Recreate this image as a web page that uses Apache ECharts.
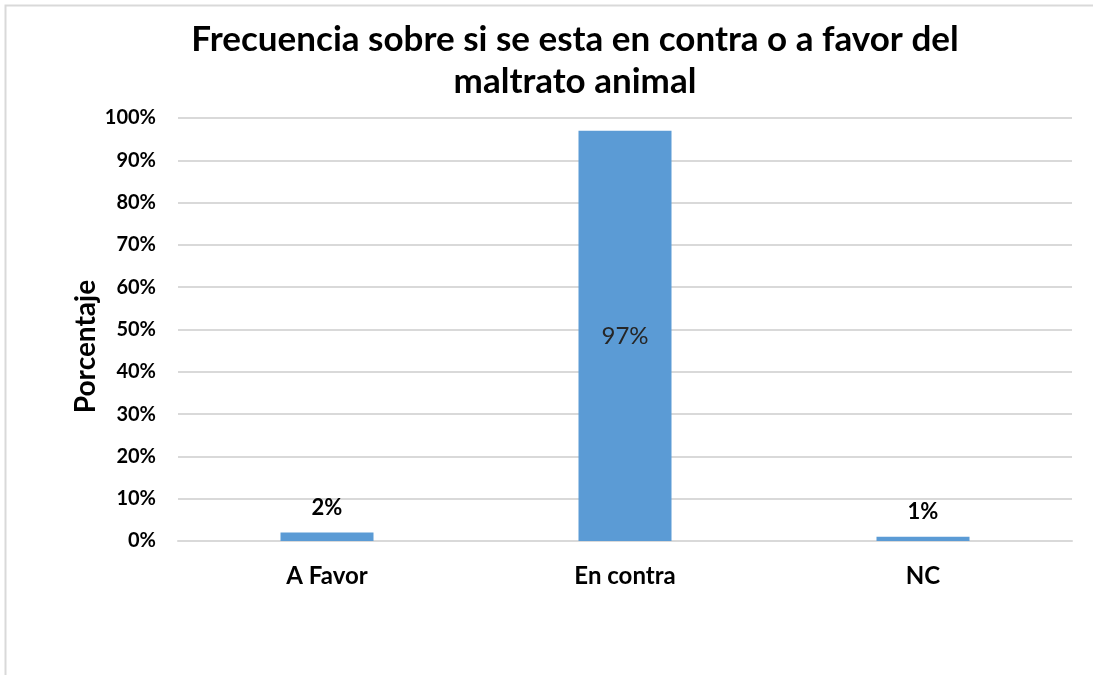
<!DOCTYPE html>
<html>
<head>
<meta charset="utf-8">
<script src="https://cdn.jsdelivr.net/npm/echarts@6/dist/echarts.min.js"></script>
<style>
  html, body { margin: 0; padding: 0; background: #fff; }
  #chart { width: 1093px; height: 675px; }
</style>
</head>
<body>
<div id="chart"></div>
<script>
const categories = ['A Favor', 'En contra', 'NC'];
const percentages = [2, 97, 1];
const yTicks = [0, 10, 20, 30, 40, 50, 60, 70, 80, 90, 100];
const titleLines = ['Frecuencia sobre si se esta en contra o a favor del', 'maltrato animal'];

const font = 'Lato, "Open Sans", sans-serif';

const chart = echarts.init(document.getElementById('chart'));

const seriesData = percentages.map((v, i) => {
  // the big bar carries its label inside, the small ones on top
  if (v > 50) {
    return {
      value: v,
      label: { position: 'inside', fontWeight: 'normal', fontSize: 24, color: '#262626' }
    };
  }
  return { value: v };
});

const option = {
  animation: false,
  backgroundColor: '#fff',
  graphic: [{
    type: 'rect',
    shape: { x: 5.5, y: 5.5, width: 1100, height: 700 },
    style: { fill: null, stroke: '#d9d9d9', lineWidth: 2 },
    silent: true
  }, {
    type: 'text',
    x: 575,
    y: 61,
    style: {
      text: titleLines.join('\n'),
      fontFamily: font,
      fontSize: 35,
      fontWeight: 'bold',
      fill: '#000',
      lineHeight: 42,
      align: 'center',
      verticalAlign: 'middle'
    },
    silent: true
  }],
  grid: {
    left: 178,
    right: 21,
    top: 118,
    bottom: 134
  },
  xAxis: {
    type: 'category',
    data: categories,
    axisLine: { show: true, lineStyle: { color: '#d9d9d9', width: 2 } },
    axisTick: { show: false },
    axisLabel: {
      fontFamily: font,
      fontSize: 24,
      fontWeight: 'bold',
      color: '#000',
      margin: 23
    }
  },
  yAxis: {
    type: 'value',
    min: 0,
    max: 100,
    interval: 10,
    name: 'Porcentaje',
    nameLocation: 'middle',
    nameGap: 78,
    nameMoveOverlap: false,
    nameTextStyle: {
      fontFamily: font,
      fontSize: 28,
      fontWeight: 'bold',
      color: '#000',
      padding: [0, 34, 0, 0]
    },
    axisLine: { show: false },
    axisTick: { show: false },
    splitLine: { lineStyle: { color: '#d9d9d9', width: 2 } },
    axisLabel: {
      fontFamily: font,
      fontSize: 20,
      fontWeight: 'bold',
      color: '#000',
      margin: 22,
      formatter: v => v + '%'
    }
  },
  series: [{
    type: 'bar',
    data: seriesData,
    barWidth: 93,
    itemStyle: { color: '#5b9bd5' },
    label: {
      show: true,
      position: 'top',
      distance: 14,
      fontFamily: font,
      fontSize: 22,
      fontWeight: 'bold',
      color: '#000',
      formatter: p => p.value + '%'
    }
  }]
};

chart.setOption(option);
</script>
</body>
</html>
